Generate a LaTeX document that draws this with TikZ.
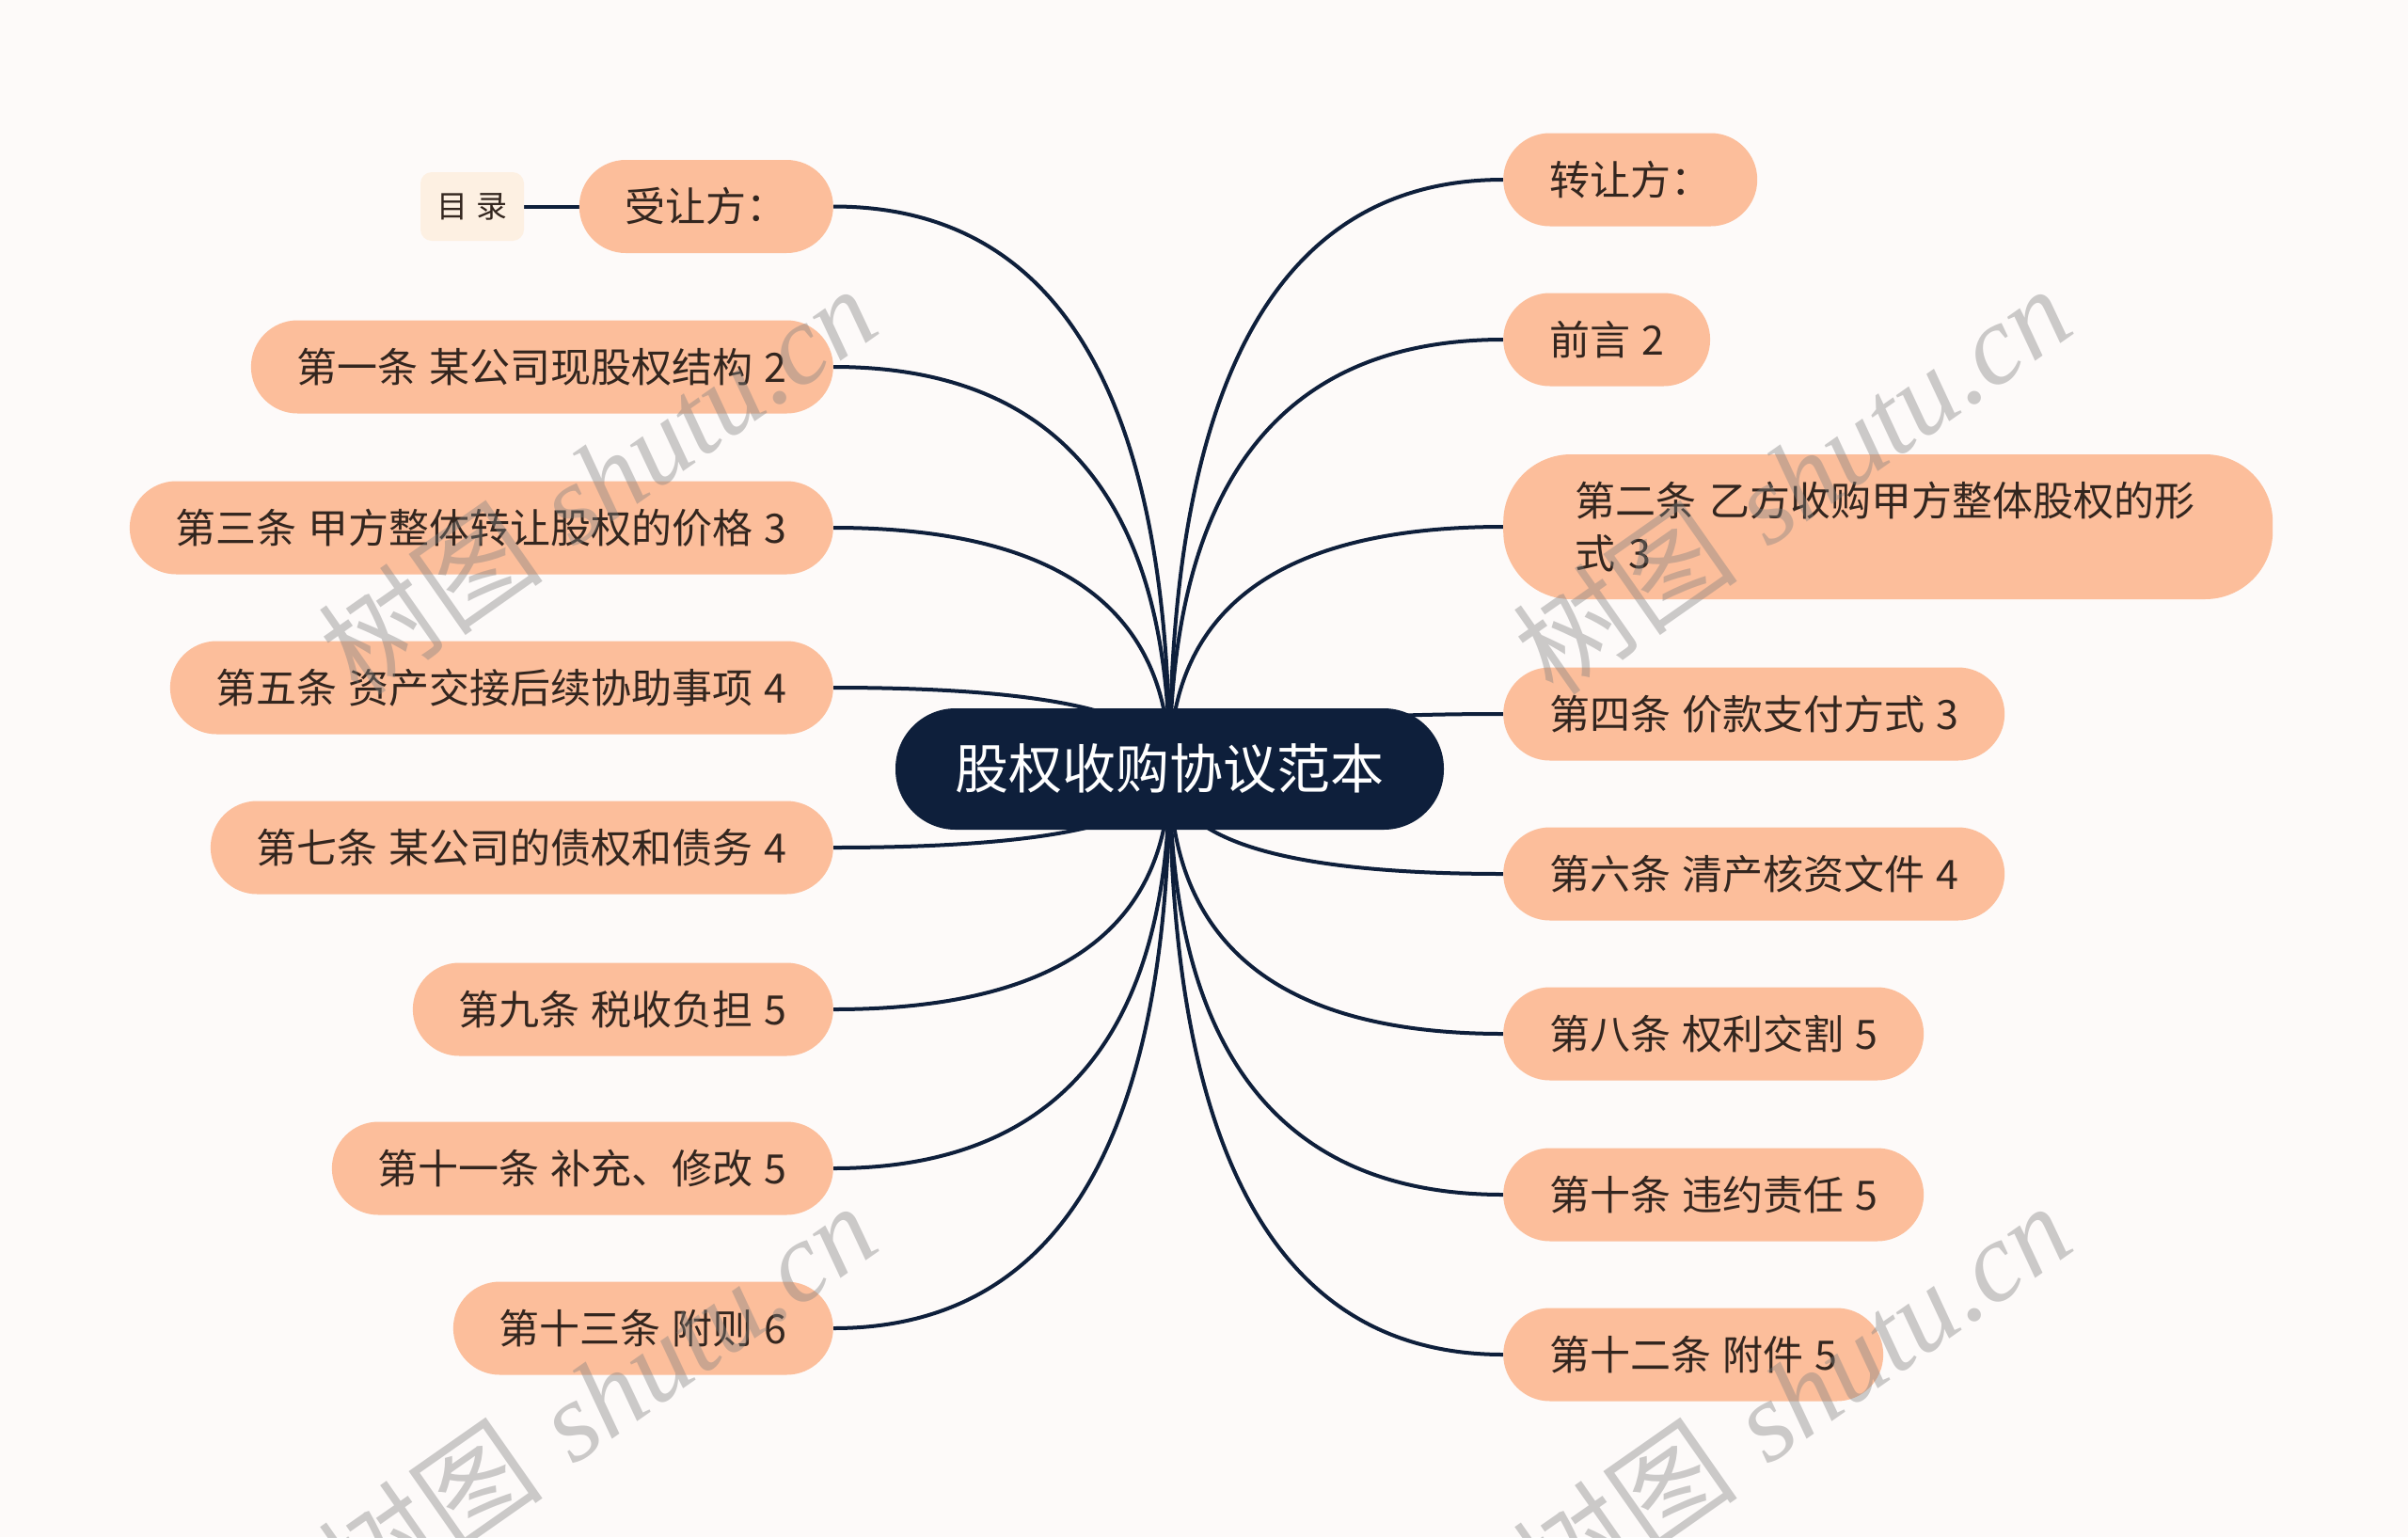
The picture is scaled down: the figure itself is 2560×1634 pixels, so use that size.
\documentclass[tikz,border=0pt]{standalone}
\usepackage{fontspec}
\newfontfamily\cjk[WordSpace=1.25]{Noto Sans CJK SC}
\newfontfamily\wmlatin{Liberation Serif}
\usetikzlibrary{calc}
\definecolor{bgc}{HTML}{FDFAF9}
\definecolor{peach}{HTML}{FCBE9B}
\definecolor{navy}{HTML}{0E1F3B}
\definecolor{txt}{HTML}{33261F}
\definecolor{mulu}{HTML}{FDF0E2}
\pgfdeclarelayer{bglayer}
\pgfdeclarelayer{edgelayer}
\pgfsetlayers{bglayer,edgelayer,main}
\newcommand\spoke[2]{%
  \path (ctr.center |- #1.#2) coordinate (knee);
  \draw[conn] (ctr.center) .. controls ($(ctr.center)!2/3!(knee)$) and ($(#1.#2)!2/3!(knee)$) .. (#1.#2);}
\tikzset{
  leaf/.style={fill=peach, rounded corners=49.5, minimum height=99, inner xsep=49, inner ysep=0,
    text=txt, font=\cjk\fontsize{43}{56}\selectfont},
  conn/.style={draw=navy, line width=4},
  wm/.style={rotate=35, text=gray, opacity=0.4, font=\fontsize{120}{130}\selectfont}
}
\begin{document}
\begin{tikzpicture}[x=1pt,y=-1pt]
\begin{pgfonlayer}{bglayer}
\fill[bgc] (0,0) rectangle (2560,1634);
\end{pgfonlayer}
\useasboundingbox (0,0) rectangle (2560,1634);

\node[fill=navy, text=white, rounded corners=64, minimum width=583, minimum height=129, inner sep=0,
  font=\cjk\fontsize{57}{60}\selectfont] (ctr) at (1243.5,817.5) {股权收购协议范本};

% left side
\node[leaf, anchor=east] (l0) at (886,219.5) {受让方：};
\node[leaf, anchor=east] (l1) at (886,390) {第一条 某公司现股权结构 2};
\node[leaf, anchor=east] (l2) at (886,561) {第三条 甲方整体转让股权的价格 3};
\node[leaf, anchor=east] (l3) at (886,731) {第五条 资产交接后续协助事项 4};
\node[leaf, anchor=east] (l4) at (886,901) {第七条 某公司的债权和债务 4};
\node[leaf, anchor=east] (l5) at (886,1073) {第九条 税收负担 5};
\node[leaf, anchor=east] (l6) at (886,1242) {第十一条 补充、修改 5};
\node[leaf, anchor=east] (l7) at (886,1412) {第十三条 附则 6};

% right side
\node[leaf, anchor=west] (r0) at (1598,191) {转让方：};
\node[leaf, anchor=west] (r1) at (1598,361) {前言 2};
\node[leaf, anchor=west, text width=666, align=left, inner xsep=76, minimum height=154, rounded corners=72] (r2) at (1598,560) {第二条 乙方收购甲方整体股权的形\\式 3};
\node[leaf, anchor=west] (r3) at (1598,759) {第四条 价款支付方式 3};
\node[leaf, anchor=west] (r4) at (1598,929) {第六条 清产核资文件 4};
\node[leaf, anchor=west] (r5) at (1598,1099) {第八条 权利交割 5};
\node[leaf, anchor=west] (r6) at (1598,1270) {第十条 违约责任 5};
\node[leaf, anchor=west] (r7) at (1598,1440) {第十二条 附件 5};

% mulu
\node[fill=mulu, rounded corners=12, minimum width=110, minimum height=73, inner sep=0, text=txt,
  font=\cjk\fontsize{33}{40}\selectfont] (ml) at (502,219.5) {目 录};

\begin{pgfonlayer}{edgelayer}
\foreach \n in {l0,l1,l2,l3,l4,l5,l6,l7} {\spoke{\n}{east}}
\foreach \n in {r0,r1,r2,r3,r4,r5,r6,r7} {\spoke{\n}{west}}
\draw[conn] (ml.east) -- (l0.west);
\end{pgfonlayer}

% watermarks
\node[wm] (wm1) at (635,510) {{\cjk 树图} {\wmlatin\itshape shutu.cn}};
\node[wm] (wm2) at (1905,510) {{\cjk 树图} {\wmlatin\itshape shutu.cn}};
\node[wm] (wm3) at (635,1485) {{\cjk 树图} {\wmlatin\itshape shutu.cn}};
\node[wm] (wm4) at (1905,1485) {{\cjk 树图} {\wmlatin\itshape shutu.cn}};
\end{tikzpicture}
\end{document}
